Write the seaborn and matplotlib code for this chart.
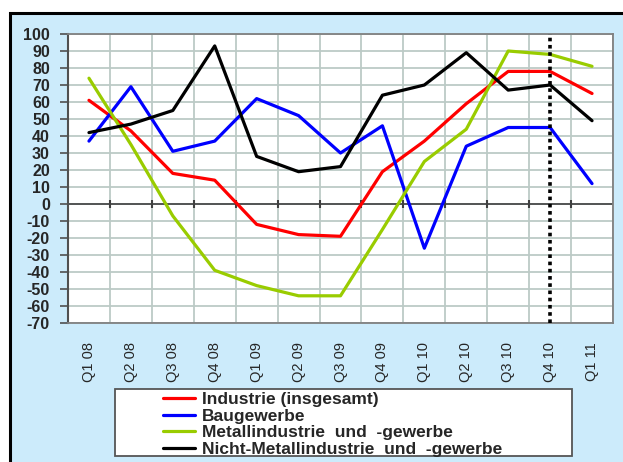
import numpy as np
import pandas as pd
import matplotlib
matplotlib.use("Agg")
import matplotlib.pyplot as plt
from matplotlib.patches import Rectangle
import seaborn as sns

# Quarterly balance values per sector
quarters = ["Q1 08", "Q2 08", "Q3 08", "Q4 08", "Q1 09", "Q2 09", "Q3 09",
            "Q4 09", "Q1 10", "Q2 10", "Q3 10", "Q4 10", "Q1 11"]
industrie = [61, 43, 18, 14, -12, -18, -19, 19, 37, 59, 78, 78, 65]
baugewerbe = [37, 69, 31, 37, 62, 52, 30, 46, -26, 34, 45, 45, 12]
metall = [74, 35, -7, -39, -48, -54, -54, -15, 25, 44, 90, 88, 81]
nicht_metall = [42, 47, 55, 93, 28, 19, 22, 64, 70, 89, 67, 70, 49]

series_names = ["Industrie (insgesamt)", "Baugewerbe",
                "Metallindustrie  und  -gewerbe",
                "Nicht-Metallindustrie  und  -gewerbe"]
series_values = [industrie, baugewerbe, metall, nicht_metall]
colors = ["#FF0000", "#0000FF", "#99CC00", "#000000"]
yticks = list(range(-70, 101, 10))
marker_quarter = "Q4 10"

sns.set_style("white")
plt.rcParams["font.family"] = ["Liberation Sans", "DejaVu Sans"]

W, H = 623, 462
fig = plt.figure(figsize=(W / 100, H / 100), dpi=100)
fig.patch.set_facecolor("white")

# Framed light-blue chart area
fig.patches.append(Rectangle((10 / W, -0.05), 1.2, 1 - 13 / H + 0.05,
                             transform=fig.transFigure, facecolor="#CCEBFB",
                             edgecolor="black", linewidth=2.2, zorder=-2))

ax = fig.add_axes([68 / W, 1 - 323 / H, (613 - 68) / W, (323 - 34) / H])
ax.set_facecolor("white")

frames = []
for name, vals in zip(series_names, series_values):
    frames.append(pd.DataFrame({"pos": np.arange(len(quarters)), "value": vals,
                                "series": name}))
df = pd.concat(frames, ignore_index=True)

sns.lineplot(data=df, x="pos", y="value", hue="series", hue_order=series_names,
             palette=colors, linewidth=2.3, sort=False, ax=ax, legend=True,
             zorder=4)

n = len(quarters)
bounds = np.arange(n + 1) - 0.5
ax.set_xlim(-0.5, n - 0.5)
ax.set_ylim(yticks[0], yticks[-1])

ax.set_xticks(np.arange(n))
ax.set_xticklabels(quarters, rotation=90, fontsize=10.5)
ax.set_xticks(bounds, minor=True)
ax.tick_params(axis="x", which="both", length=0, pad=14)
ax.set_yticks(yticks)
ax.set_yticklabels([str(v) for v in yticks], fontsize=11.5, fontweight="bold")
ax.tick_params(axis="y", direction="out", length=6, width=1.2,
               color="#505050", pad=7, left=True)

ax.grid(False)
ax.grid(axis="y", which="major", color="#BCCAC6", linewidth=1.3, zorder=1)
ax.grid(axis="x", which="minor", color="#BCCAC6", linewidth=1.3, zorder=1)
ax.set_axisbelow(True)

# Zero line with small category ticks
ax.axhline(0, color="#404040", linewidth=1.2, zorder=2)
ax.vlines(bounds[1:-1], -2.2, 2.2, color="#404040", linewidth=1.5, zorder=2)

# Dotted marker at the latest observed quarter
ax.axvline(quarters.index(marker_quarter), color="black",
           linestyle=(0, (1, 1)), linewidth=2.6, zorder=5)

for side in ["top", "right", "bottom"]:
    ax.spines[side].set_color("#808080")
    ax.spines[side].set_linewidth(1.3)
ax.spines["left"].set_color("#505050")
ax.spines["left"].set_linewidth(1.5)

ax.set_xlabel("")
ax.set_ylabel("")

# Legend in a separate box below the plot
fig.patches.append(Rectangle((115 / W, 1 - 456 / H), (572 - 115) / W,
                             (456 - 389) / H, transform=fig.transFigure,
                             facecolor="white", edgecolor="#555555",
                             linewidth=1.3, zorder=-1))
handles, labels = ax.get_legend_handles_labels()
ax.legend_.remove()
leg = fig.legend(handles, labels, loc="upper left",
                 bbox_to_anchor=(163 / W, 1 - 392 / H), frameon=False,
                 prop={"size": 12.5, "weight": "bold"}, borderpad=0,
                 borderaxespad=0, handlelength=1.85, handletextpad=0.4,
                 labelspacing=0.08)
leg.set_zorder(6)
for line in leg.get_lines():
    line.set_linewidth(2.3)

fig.savefig("out.png", dpi=100)
